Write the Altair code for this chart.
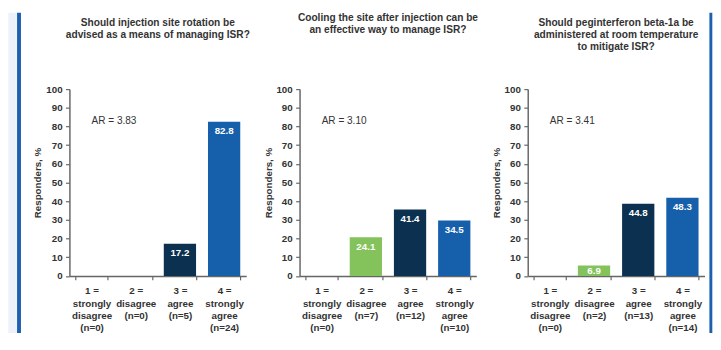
import altair as alt
import pandas as pd

FONT = "Liberation Sans"

titles = [
    ["Should injection site rotation be", "advised as a means of managing ISR?", " "],
    ["Cooling the site after injection can be", "an effective way to manage ISR?", " "],
    ["Should peginterferon beta-1a be", "administered at room temperature", "to mitigate ISR?"],
]
ar_texts = ["AR = 3.83", "AR = 3.10", "AR = 3.41"]
ar_level = 83
codes = ["1", "2", "3", "4"]
code_labels = ["1 =", "2 =", "3 =", "4 ="]
scale_words = [["strongly", "disagree"], ["disagree"], ["agree"], ["strongly", "agree"]]
counts = [[0, 0, 5, 24], [0, 7, 12, 10], [0, 2, 13, 14]]
# bar heights as drawn in the picture
bar_heights = [[0, 0, 17.2, 82.6], [0, 20.7, 35.6, 29.7], [0, 5.6, 38.6, 41.8]]
# value labels printed on the bars
pct_labels = [["", "", "17.2", "82.8"], ["", "24.1", "41.4", "34.5"], ["", "6.9", "44.8", "48.3"]]
y_ticks = [0, 10, 20, 30, 40, 50, 60, 70, 80, 90, 100]

colors = ["#9a9a9a", "#84c35c", "#0b3050", "#1660ab"]
AXIS_C = "#666666"
TEXT_C = "#333333"

W = 181.3
H = 191.6
TOP = 78.4          # decoration reaches this far above the plot
TITLE_OFF = 28

X_AXIS = alt.Axis(
    title=None, labelAngle=0, labelExpr="split(datum.label, '|')",
    tickBand="extent", labelLineHeight=12.5, labelPadding=6.5, tickSize=4,
    labelFontSize=10, labelFontWeight="bold", labelColor=TEXT_C, labelFont=FONT,
    domainColor=AXIS_C, tickColor=AXIS_C, domainWidth=1.5, tickWidth=1.2,
    labelLimit=0, labelBaseline="top", labelOverlap=False,
)
Y_AXIS = alt.Axis(
    values=y_ticks, tickCount=11, title="Responders, %", grid=False,
    tickSize=4, labelPadding=3.5, labelFontSize=10, labelFontWeight="bold",
    labelColor=TEXT_C, labelFont=FONT, domainColor=AXIS_C, tickColor=AXIS_C,
    domainWidth=1.5, tickWidth=1.2, titleFont=FONT, titleFontSize=10,
    titleFontWeight="bold", titleColor=TEXT_C, titlePadding=3,
    labelOverlap=False, labelFlush=False,
)


def panel(i):
    cats = [
        "|".join([code_labels[k]] + scale_words[k] + [f"(n={counts[i][k]})"])
        for k in range(4)
    ]
    df = pd.DataFrame({
        "cat": cats,
        "code": codes,
        "h": bar_heights[i],
        "lab": pct_labels[i],
    })
    xscale = alt.Scale(domain=cats, paddingInner=0.27, paddingOuter=0.135)
    yscale = alt.Scale(domain=[0, 100], nice=False)

    def X():
        return alt.X("cat:N", sort=None, scale=xscale, axis=X_AXIS)

    def Y(field):
        return alt.Y(field, scale=yscale, axis=Y_AXIS, title="Responders, %")

    base = alt.Chart(df)
    bars = base.mark_bar().encode(
        x=X(), y=Y("h:Q"),
        color=alt.Color("code:N", scale=alt.Scale(domain=codes, range=colors), legend=None),
    )
    labels = base.transform_filter("datum.lab != ''").transform_calculate(
        ly="max(datum.h - 5, datum.h / 2)"
    ).mark_text(
        font=FONT, fontSize=10, fontWeight="bold", color="white", baseline="middle"
    ).encode(x=X(), y=Y("ly:Q"), text="lab:N")
    ar_df = pd.DataFrame({"cat": [cats[0]], "h": [ar_level], "t": [ar_texts[i]]})
    ar = alt.Chart(ar_df).mark_text(
        font=FONT, fontSize=10.3, color=TEXT_C, align="left", baseline="middle"
    ).encode(x=X(), y=Y("h:Q"), text="t:N")
    layers = [bars, labels, ar]
    one = pd.DataFrame({"d": [0]})
    off = TITLE_OFF
    if i == 0:
        strip = alt.Chart(one).mark_rect(color="#edf1f9").encode(
            x=alt.value(-62.7), x2=alt.value(-53.7), y=alt.value(-TOP), y2=alt.value(250)
        )
        line = alt.Chart(one).mark_rect(color="#1d5fb0").encode(
            x=alt.value(-53.7), x2=alt.value(-49.7), y=alt.value(-TOP), y2=alt.value(250)
        )
        layers = layers + [strip, line]
        off = TITLE_OFF - TOP
    if i == 2:
        rline = alt.Chart(one).mark_rect(color="#1d5fb0").encode(
            x=alt.value(W + 5), x2=alt.value(W + 8), y=alt.value(-TOP), y2=alt.value(250)
        )
        layers = layers + [rline]
        off = TITLE_OFF - TOP
    return alt.layer(*layers).properties(
        width=W, height=H,
        title=alt.TitleParams(
            text=titles[i], font=FONT, fontSize=10.4, fontWeight="bold", color=TEXT_C,
            lineHeight=12, anchor="middle", baseline="bottom", offset=off,
        ),
    )


chart = alt.hconcat(panel(0), panel(1), panel(2), spacing=12).properties(
    padding=0
).configure_view(stroke=None)

chart.save("out.html", embed_options={"renderer": "svg", "actions": False})
